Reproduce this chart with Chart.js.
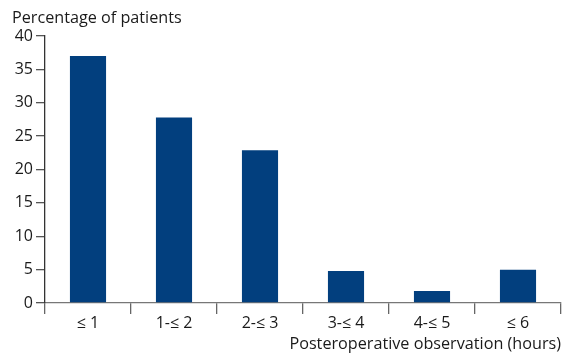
<!DOCTYPE html>
<html><head><meta charset="utf-8">
<script src="https://cdn.jsdelivr.net/npm/chart.js@4/dist/chart.umd.min.js"></script>
<style>html,body{margin:0;padding:0;background:#fff}#wrap{width:565px;height:354px}</style>
</head><body><div id="wrap"><canvas id="c" width="565" height="354"></canvas></div>
<script>
const categories = ['≤ 1', '1-≤ 2', '2-≤ 3', '3-≤ 4', '4-≤ 5', '≤ 6'];
const percentages = [37, 27.8, 22.9, 4.8, 1.8, 5];
const yTicks = [0, 5, 10, 15, 20, 25, 30, 35, 40];
const yTitle = 'Percentage of patients';
const xTitle = 'Posteroperative observation (hours)';
const FONT = '"Open Sans", sans-serif';

const titlePlugin = {
  id: 'topTitle',
  afterDraw(chart) {
    const ctx = chart.ctx;
    ctx.save();
    ctx.font = '16.2px ' + FONT;
    ctx.fillStyle = '#1a1a1a';
    ctx.textAlign = 'left';
    ctx.textBaseline = 'middle';
    ctx.fillText(yTitle, 12, 18);
    ctx.restore();
  }
};

new Chart(document.getElementById('c'), {
  type: 'bar',
  data: { labels: categories, datasets: [{ data: percentages, backgroundColor: '#023f7e', categoryPercentage: 1, barPercentage: 0.42 }] },
  options: {
    responsive: false, animation: false,
    layout: { padding: { top: 36, right: 4, left: 0, bottom: 0 } },
    plugins: { legend: { display: false }, tooltip: { enabled: false } },
    scales: {
      x: {
        afterFit(s) { s.height = 51; },
        grid: { offset: true, drawOnChartArea: false, drawTicks: true, tickLength: 11, color: '#666', lineWidth: 1.3 },
        border: { color: '#777', width: 1.3 },
        ticks: { color: '#1a1a1a', font: { size: 16, family: FONT }, padding: 0 },
        title: { display: true, text: xTitle, align: 'end', color: '#1a1a1a', font: { size: 16.2, family: FONT }, padding: { top: 2, bottom: 0 } }
      },
      y: {
        min: 0, max: 40,
        afterFit(s) { s.width = 45; },
        afterBuildTicks(s) { s.ticks = yTicks.map(v => ({ value: v })); },
        grid: { drawOnChartArea: false, drawTicks: true, tickLength: 9, color: '#555', lineWidth: 1.3 },
        border: { color: '#333', width: 1.3 },
        ticks: { color: '#1a1a1a', font: { size: 16, family: FONT }, padding: 3 }
      }
    }
  },
  plugins: [titlePlugin]
});
</script></body></html>
